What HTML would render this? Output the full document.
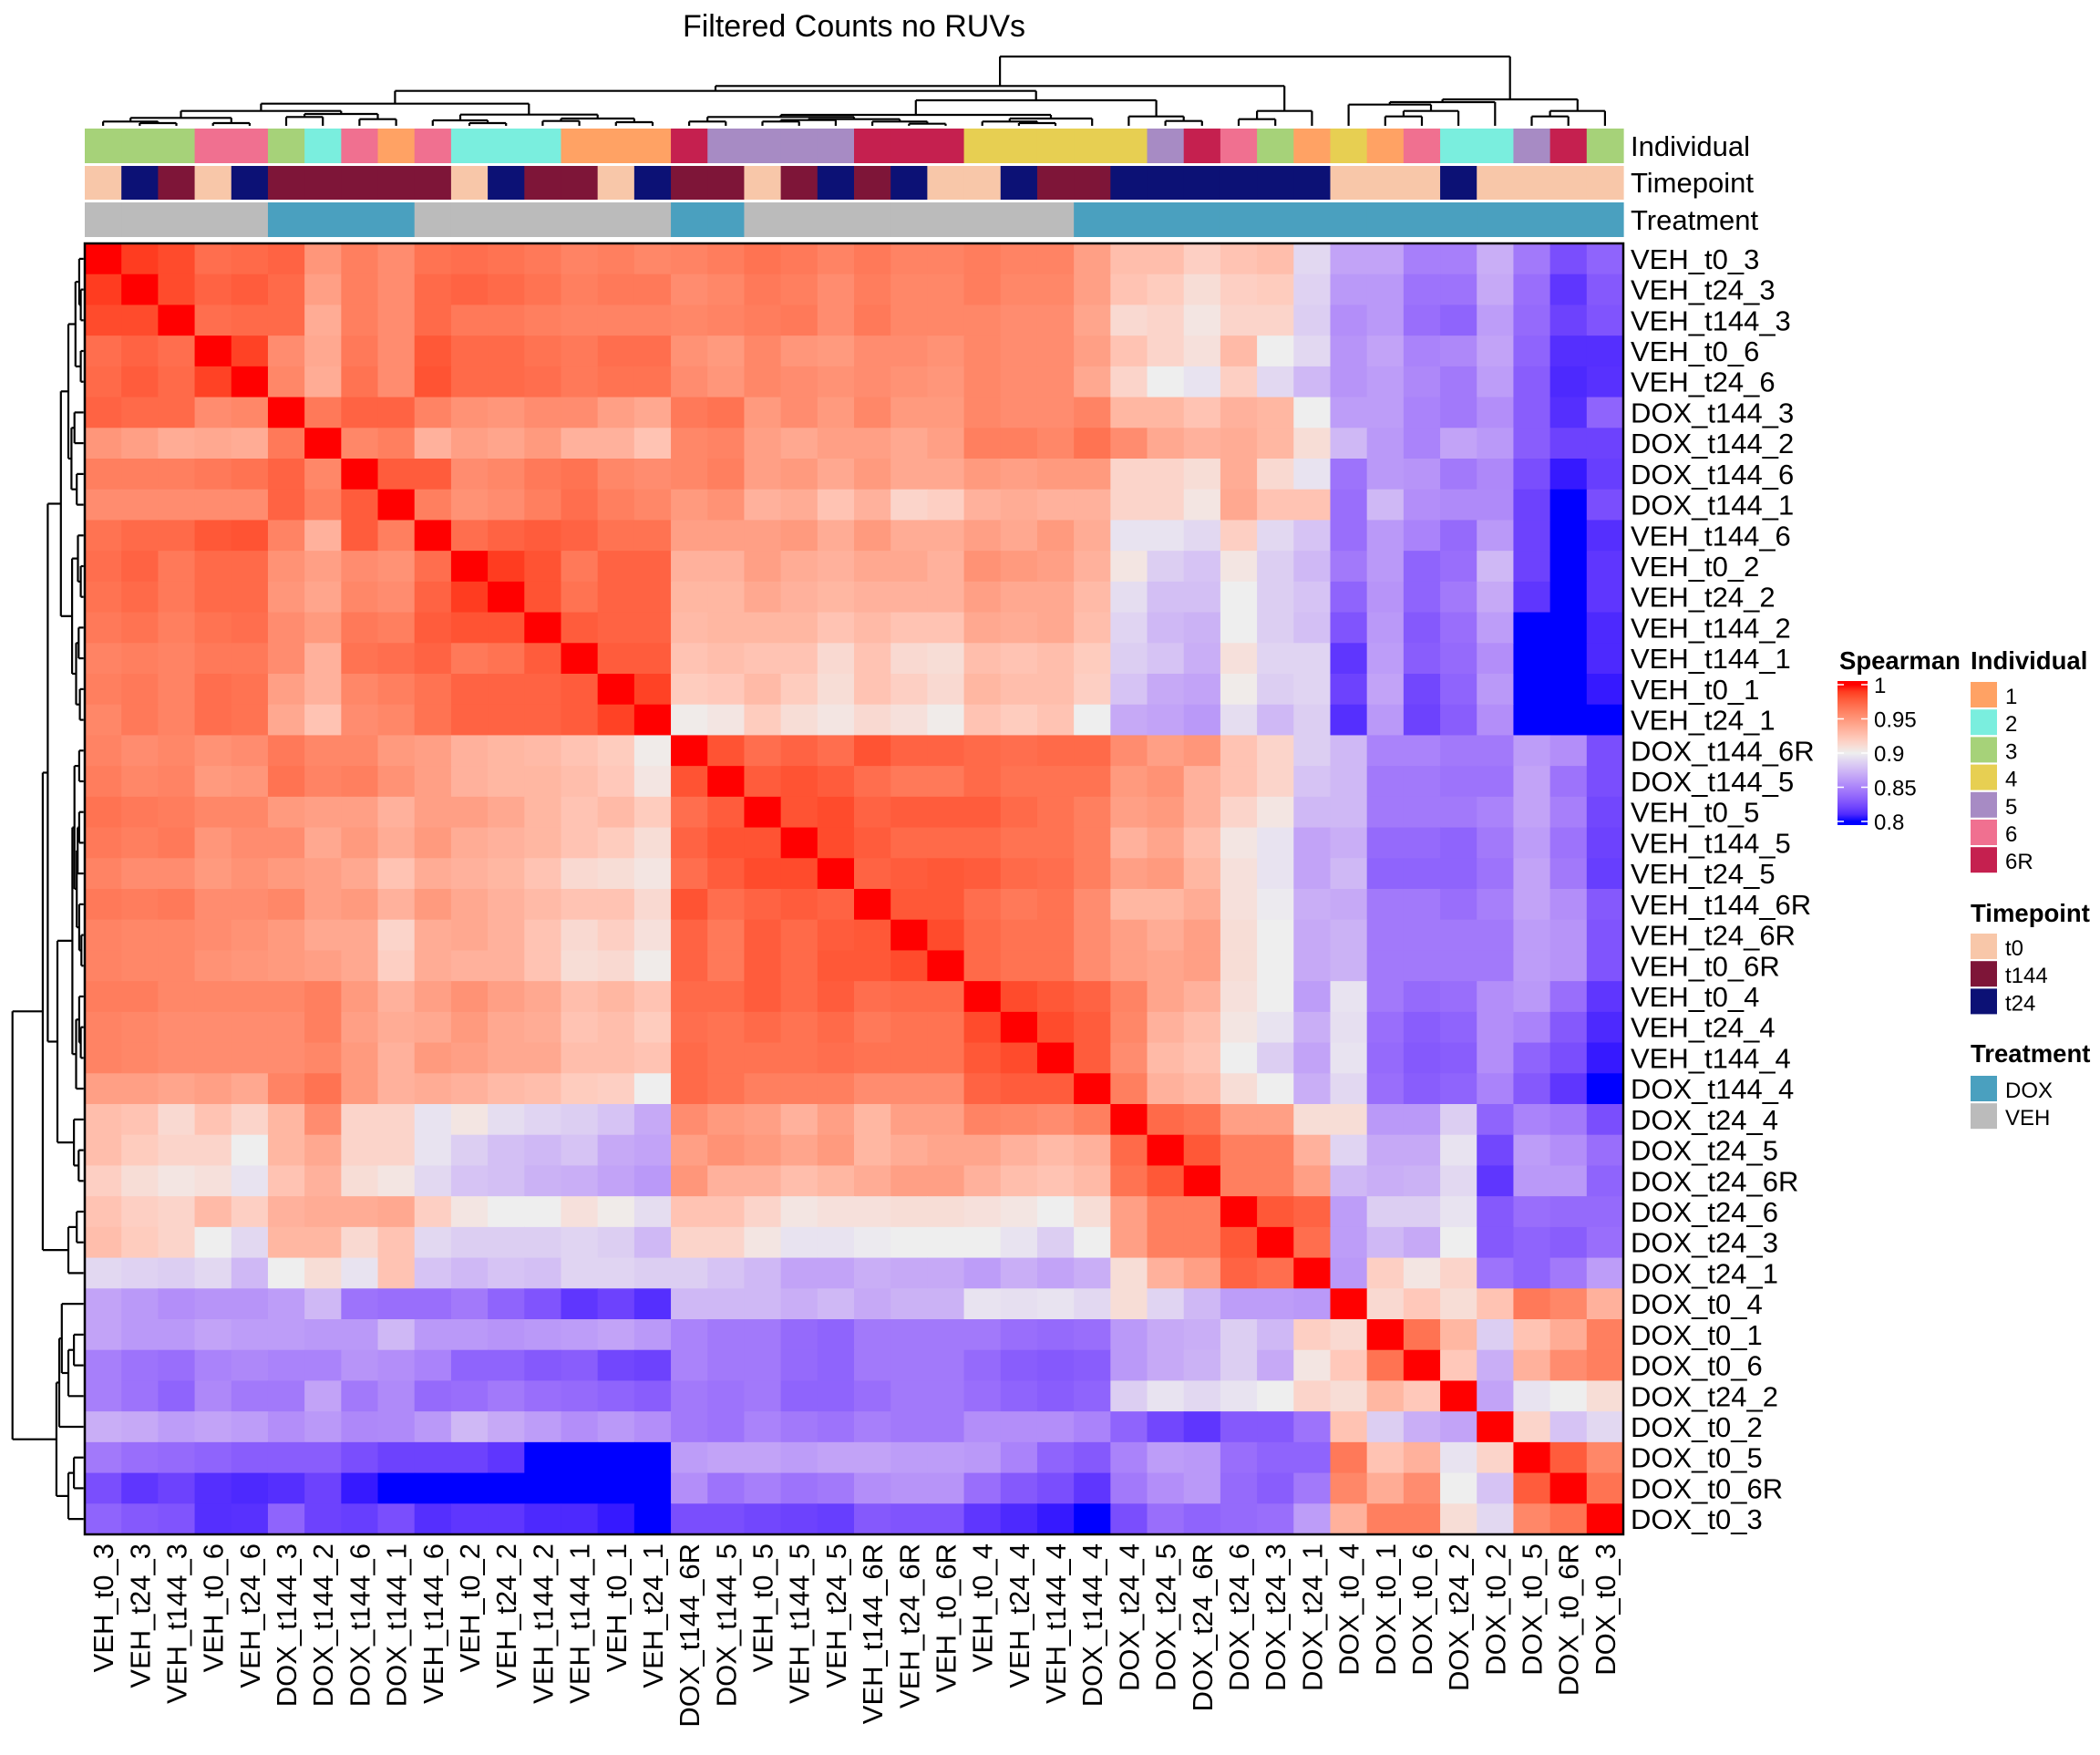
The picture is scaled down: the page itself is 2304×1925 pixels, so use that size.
<!DOCTYPE html>
<html><head><meta charset="utf-8"><title>Filtered Counts no RUVs</title>
<style>
html,body{margin:0;padding:0;background:#fff;}
svg text{font-family:"Liberation Sans",Arial,sans-serif;fill:#000;}
</style></head>
<body>
<svg id="chart" width="2304" height="1920" viewBox="0 0 2304 1920" xmlns="http://www.w3.org/2000/svg">
  <rect x="0" y="0" width="2304" height="1920" fill="#fff"/>
  <text x="937" y="40" font-size="34" text-anchor="middle">Filtered Counts no RUVs</text>
  <g id="topDendro"></g>
  <g id="leftDendro"></g>
  <g id="annots"></g>
  <text x="1789" y="171" font-size="31">Individual</text>
  <text x="1789" y="211" font-size="31">Timepoint</text>
  <text x="1789" y="252" font-size="31">Treatment</text>
  <g id="cells"></g>
  <rect x="93" y="267" width="1688" height="1416" fill="none" stroke="#000" stroke-width="2.5"/>
  <g id="rowLabels"></g>
  <g id="colLabels"></g>

  <g>
    <text x="2018" y="734" font-size="27.5" font-weight="bold">Spearman</text>
    <defs><linearGradient id="grad" x1="0" y1="1" x2="0" y2="0"></linearGradient></defs>
    <rect x="2016" y="747" width="33" height="158" fill="url(#grad)"/>
    <g id="legTicks"></g>
  </g>
  <g id="catLegends"></g>
</svg>
<script>
const NS="http://www.w3.org/2000/svg";
const labels=["VEH_t0_3","VEH_t24_3","VEH_t144_3","VEH_t0_6","VEH_t24_6","DOX_t144_3","DOX_t144_2","DOX_t144_6","DOX_t144_1","VEH_t144_6","VEH_t0_2","VEH_t24_2","VEH_t144_2","VEH_t144_1","VEH_t0_1","VEH_t24_1","DOX_t144_6R","DOX_t144_5","VEH_t0_5","VEH_t144_5","VEH_t24_5","VEH_t144_6R","VEH_t24_6R","VEH_t0_6R","VEH_t0_4","VEH_t24_4","VEH_t144_4","DOX_t144_4","DOX_t24_4","DOX_t24_5","DOX_t24_6R","DOX_t24_6","DOX_t24_3","DOX_t24_1","DOX_t0_4","DOX_t0_1","DOX_t0_6","DOX_t24_2","DOX_t0_2","DOX_t0_5","DOX_t0_6R","DOX_t0_3"];
// upper triangle: row i holds values for columns i..41
const upperRows=[
[1.0,0.99,0.985,0.97,0.972,0.975,0.95,0.962,0.955,0.968,0.97,0.968,0.965,0.96,0.962,0.958,0.96,0.963,0.968,0.965,0.96,0.965,0.96,0.96,0.963,0.96,0.96,0.945,0.928,0.928,0.918,0.925,0.928,0.89,0.865,0.865,0.848,0.848,0.87,0.845,0.825,0.835],
[1.0,0.985,0.975,0.978,0.972,0.945,0.962,0.955,0.972,0.975,0.972,0.968,0.962,0.965,0.965,0.955,0.958,0.965,0.962,0.955,0.963,0.958,0.958,0.963,0.958,0.958,0.945,0.925,0.92,0.91,0.918,0.92,0.887,0.86,0.86,0.842,0.842,0.868,0.84,0.815,0.83],
[1.0,0.97,0.972,0.972,0.938,0.962,0.955,0.972,0.965,0.965,0.962,0.96,0.96,0.96,0.958,0.96,0.963,0.965,0.955,0.965,0.958,0.958,0.958,0.955,0.955,0.942,0.912,0.915,0.905,0.915,0.915,0.885,0.855,0.86,0.84,0.835,0.862,0.838,0.82,0.828],
[1.0,0.988,0.955,0.94,0.965,0.955,0.98,0.972,0.972,0.968,0.965,0.97,0.97,0.952,0.948,0.958,0.95,0.948,0.955,0.955,0.952,0.958,0.955,0.955,0.945,0.925,0.915,0.908,0.93,0.9,0.89,0.858,0.865,0.85,0.852,0.865,0.835,0.812,0.812],
[1.0,0.958,0.938,0.968,0.955,0.982,0.972,0.972,0.97,0.965,0.968,0.968,0.955,0.95,0.958,0.955,0.952,0.955,0.952,0.95,0.958,0.955,0.955,0.94,0.915,0.9,0.895,0.918,0.89,0.875,0.858,0.862,0.852,0.845,0.862,0.832,0.81,0.813],
[1.0,0.965,0.975,0.975,0.96,0.952,0.95,0.955,0.955,0.945,0.94,0.965,0.968,0.948,0.955,0.948,0.958,0.948,0.948,0.958,0.955,0.955,0.96,0.932,0.932,0.925,0.935,0.932,0.9,0.862,0.862,0.85,0.845,0.855,0.832,0.812,0.835],
[1.0,0.958,0.962,0.935,0.945,0.942,0.948,0.935,0.935,0.925,0.958,0.96,0.945,0.94,0.945,0.945,0.94,0.945,0.962,0.962,0.958,0.968,0.955,0.94,0.935,0.938,0.932,0.91,0.875,0.86,0.85,0.865,0.86,0.832,0.82,0.82],
[1.0,0.978,0.978,0.955,0.958,0.965,0.968,0.958,0.955,0.958,0.962,0.945,0.948,0.94,0.948,0.94,0.94,0.948,0.945,0.948,0.948,0.915,0.915,0.91,0.938,0.912,0.895,0.842,0.86,0.858,0.845,0.852,0.825,0.805,0.818],
[1.0,0.962,0.952,0.955,0.962,0.97,0.962,0.958,0.948,0.952,0.935,0.938,0.925,0.935,0.915,0.918,0.935,0.938,0.935,0.935,0.915,0.915,0.905,0.94,0.925,0.925,0.84,0.875,0.855,0.853,0.853,0.82,0.78,0.825],
[1.0,0.97,0.975,0.978,0.975,0.968,0.968,0.945,0.945,0.945,0.948,0.938,0.948,0.938,0.938,0.945,0.94,0.948,0.938,0.895,0.895,0.89,0.918,0.89,0.88,0.84,0.86,0.85,0.838,0.86,0.82,0.78,0.812],
[1.0,0.99,0.982,0.965,0.975,0.975,0.935,0.935,0.945,0.938,0.935,0.94,0.94,0.935,0.952,0.948,0.945,0.935,0.905,0.885,0.88,0.905,0.885,0.875,0.845,0.86,0.835,0.84,0.875,0.82,0.78,0.815],
[1.0,0.982,0.968,0.975,0.975,0.932,0.932,0.94,0.935,0.932,0.935,0.935,0.935,0.945,0.94,0.94,0.93,0.892,0.878,0.878,0.9,0.885,0.88,0.835,0.858,0.835,0.845,0.868,0.815,0.78,0.815],
[1.0,0.978,0.975,0.975,0.93,0.932,0.932,0.932,0.925,0.93,0.925,0.925,0.94,0.938,0.94,0.928,0.888,0.875,0.872,0.9,0.885,0.878,0.828,0.86,0.83,0.84,0.862,0.8,0.78,0.81],
[1.0,0.978,0.978,0.925,0.928,0.925,0.925,0.912,0.925,0.912,0.91,0.928,0.925,0.928,0.92,0.885,0.88,0.87,0.908,0.888,0.888,0.815,0.862,0.832,0.838,0.855,0.78,0.78,0.81],
[1.0,0.988,0.92,0.922,0.93,0.92,0.91,0.925,0.918,0.912,0.932,0.928,0.928,0.918,0.88,0.868,0.865,0.902,0.885,0.888,0.82,0.865,0.822,0.835,0.86,0.78,0.78,0.805],
[1.0,0.902,0.905,0.92,0.91,0.905,0.912,0.908,0.902,0.925,0.92,0.925,0.9,0.868,0.865,0.86,0.892,0.875,0.885,0.812,0.86,0.82,0.832,0.855,0.78,0.78,0.78],
[1.0,0.982,0.97,0.975,0.97,0.982,0.975,0.975,0.972,0.97,0.972,0.972,0.955,0.945,0.95,0.925,0.915,0.885,0.875,0.85,0.85,0.845,0.845,0.862,0.855,0.825],
[1.0,0.978,0.982,0.978,0.97,0.965,0.965,0.972,0.968,0.968,0.968,0.948,0.952,0.935,0.925,0.915,0.88,0.875,0.845,0.845,0.842,0.842,0.865,0.842,0.825],
[1.0,0.982,0.985,0.975,0.978,0.978,0.978,0.972,0.968,0.962,0.945,0.948,0.935,0.915,0.905,0.875,0.875,0.845,0.845,0.845,0.85,0.865,0.848,0.822],
[1.0,0.985,0.978,0.972,0.972,0.972,0.968,0.968,0.962,0.935,0.942,0.928,0.905,0.895,0.865,0.87,0.838,0.838,0.835,0.845,0.862,0.842,0.82],
[1.0,0.975,0.978,0.98,0.978,0.972,0.97,0.962,0.945,0.948,0.932,0.908,0.895,0.865,0.875,0.835,0.835,0.835,0.842,0.865,0.845,0.818],
[1.0,0.98,0.98,0.97,0.965,0.968,0.955,0.932,0.932,0.938,0.908,0.898,0.87,0.868,0.845,0.845,0.84,0.848,0.865,0.855,0.83],
[1.0,0.985,0.972,0.968,0.968,0.955,0.945,0.938,0.945,0.91,0.9,0.868,0.872,0.845,0.845,0.845,0.845,0.862,0.858,0.828],
[1.0,0.972,0.968,0.968,0.955,0.945,0.942,0.945,0.91,0.9,0.868,0.872,0.845,0.845,0.845,0.845,0.862,0.858,0.828],
[1.0,0.985,0.98,0.975,0.96,0.942,0.935,0.908,0.9,0.862,0.895,0.845,0.838,0.84,0.855,0.86,0.84,0.815],
[1.0,0.985,0.978,0.958,0.935,0.928,0.905,0.895,0.87,0.893,0.84,0.832,0.835,0.855,0.85,0.83,0.81],
[1.0,0.978,0.955,0.93,0.925,0.9,0.885,0.865,0.895,0.838,0.83,0.832,0.855,0.835,0.825,0.805],
[1.0,0.962,0.935,0.93,0.91,0.9,0.87,0.89,0.84,0.832,0.835,0.85,0.83,0.815,0.78],
[1.0,0.972,0.968,0.945,0.945,0.91,0.91,0.86,0.86,0.885,0.835,0.85,0.845,0.825],
[1.0,0.98,0.962,0.962,0.935,0.888,0.868,0.868,0.895,0.822,0.862,0.855,0.84],
[1.0,0.962,0.962,0.945,0.875,0.87,0.872,0.89,0.815,0.86,0.86,0.835],
[1.0,0.98,0.975,0.862,0.885,0.885,0.895,0.83,0.84,0.838,0.838],
[1.0,0.97,0.862,0.875,0.868,0.9,0.83,0.835,0.832,0.84],
[1.0,0.86,0.918,0.905,0.915,0.842,0.835,0.845,0.862],
[1.0,0.912,0.922,0.91,0.925,0.965,0.958,0.935],
[1.0,0.968,0.932,0.885,0.925,0.938,0.962],
[1.0,0.922,0.87,0.935,0.955,0.962],
[1.0,0.865,0.895,0.9,0.91],
[1.0,0.915,0.88,0.89],
[1.0,0.978,0.958],
[1.0,0.968],
[1.0]
];
// dendrogram merges (hclust style): negative = leaf (1-based), positive = merge index; third = height
const merges=[
[-2,-3,3],[-1,1,4.7],[-4,-5,3],[2,3,8.7],[-6,-7,9.7],[-8,-9,7.3],[5,6,13],[4,7,16.3],
[-11,-12,3],[-10,9,6],[-13,-14,5.3],[-15,-16,4],[11,12,8],[10,13,12.3],[8,14,24.3],
[-17,-18,4.7],[-19,-20,4.7],[17,-21,6.3],[-23,-24,2.3],[-22,19,4.7],[18,20,7.3],[16,21,9.7],
[-26,-27,3],[-25,23,4.7],[24,-28,8],[22,25,12],[-30,-31,5.3],[-29,27,10.3],[26,28,28],[15,29,38.3],
[-32,-33,7.3],[31,-34,16.3],[30,32,43.7],[-36,-37,10.3],[34,-38,16.3],[-35,35,23.3],[36,-39,26],
[-40,-41,10.3],[38,-42,16.3],[37,39,29],[33,40,76]
];
const scaleTicks=[1,0.95,0.9,0.85,0.8];
const indivLevels=["1","2","3","4","5","6","6R"];
const indivColors=["#FFA264","#7AEEDE","#A6D279","#E7CF52","#A78BC4","#F07090","#C5204F"];
const timeLevels=["t0","t144","t24"];
const timeColors=["#F8C7A9","#7E1538","#0C1175"];
const treatLevels=["DOX","VEH"];
const treatColors=["#4AA0BF","#BBBBBB"];

const N=labels.length;
const X0=93,Y0=267,W=1688,H=1416,cw=W/N,ch=H/N;
const xC=i=>X0+cw*(i+0.5), yC=i=>Y0+ch*(i+0.5);

const M=[];for(let i=0;i<N;i++)M.push(new Array(N).fill(0.9));
for(let i=0;i<N;i++){const r=upperRows[i]||[];for(let k=0;k<N-i;k++){const v=(r[k]!==undefined)?r[k]:0.9;M[i][i+k]=v;M[i+k][i]=v;}}

function s2l(c){c/=255;return c<=0.04045?c/12.92:Math.pow((c+0.055)/1.055,2.4);}
function l2s(c){c=c<=0.0031308?12.92*c:1.055*Math.pow(c,1/2.4)-0.055;return Math.max(0,Math.min(255,Math.round(c*255)));}
function toLab(r,g,b){r=s2l(r);g=s2l(g);b=s2l(b);let x=(r*0.4124+g*0.3576+b*0.1805)/0.95047,y=(r*0.2126+g*0.7152+b*0.0722),z=(r*0.0193+g*0.1192+b*0.9505)/1.08883;const f=t=>t>0.008856?Math.cbrt(t):7.787*t+16/116;x=f(x);y=f(y);z=f(z);return[116*y-16,500*(x-y),200*(y-z)];}
function fromLab(L,a,b){let y=(L+16)/116,x=a/500+y,z=y-b/200;const fi=t=>t*t*t>0.008856?t*t*t:(t-16/116)/7.787;x=fi(x)*0.95047;y=fi(y);z=fi(z)*1.08883;const r=x*3.2406+y*-1.5372+z*-0.4986,g=x*-0.9689+y*1.8758+z*0.0415,bb=x*0.0557+y*-0.2040+z*1.0570;return`rgb(${l2s(r)},${l2s(g)},${l2s(bb)})`;}
const LB=toLab(0,0,255),LW=toLab(238,238,238),LR=toLab(255,0,0);
function col(v){v=Math.max(0.8,Math.min(1,v));let A,B,t;if(v<0.9){A=LB;B=LW;t=(v-0.8)/0.1;}else{A=LW;B=LR;t=(v-0.9)/0.1;}return fromLab(A[0]+(B[0]-A[0])*t,A[1]+(B[1]-A[1])*t,A[2]+(B[2]-A[2])*t);}

const cells=document.getElementById('cells');
for(let i=0;i<N;i++)for(let j=0;j<N;j++){
  const r=document.createElementNS(NS,'rect');
  r.setAttribute('x',(X0+cw*j).toFixed(2));r.setAttribute('y',(Y0+ch*i).toFixed(2));
  r.setAttribute('width',(cw+0.6).toFixed(2));r.setAttribute('height',(ch+0.6).toFixed(2));
  r.setAttribute('fill',col(M[i][j]));
  
  
  cells.appendChild(r);
}
const rl=document.getElementById('rowLabels'),cl=document.getElementById('colLabels');
labels.forEach((s,i)=>{
  const t=document.createElementNS(NS,'text');
  t.setAttribute('x',1789);t.setAttribute('y',(yC(i)+11).toFixed(1));t.setAttribute('font-size','31');
  t.textContent=s;
  
  
  rl.appendChild(t);
  const c=document.createElementNS(NS,'text');
  const cx=xC(i)+11,cy=1693;
  c.setAttribute('transform',`translate(${cx.toFixed(1)},${cy}) rotate(-90)`);
  c.setAttribute('text-anchor','end');c.setAttribute('font-size','31');
  c.textContent=s;
  
  
  cl.appendChild(c);
});
const an=document.getElementById('annots');
function addAnn(y,h,color,name){
  for(let j=0;j<N;j++){const r=document.createElementNS(NS,'rect');
    r.setAttribute('x',(X0+cw*j).toFixed(2));r.setAttribute('y',y);r.setAttribute('width',(cw+0.6).toFixed(2));r.setAttribute('height',h);
    r.setAttribute('fill',color(j));
    
    
    an.appendChild(r);}
}
const parts=labels.map(s=>s.split('_'));
addAnn(141,38,j=>indivColors[indivLevels.indexOf(parts[j][2])],'individual-annotation-cell');
addAnn(182,37,j=>timeColors[timeLevels.indexOf(parts[j][1])],'timepoint-annotation-cell');
addAnn(222,38,j=>treatColors[treatLevels.indexOf(parts[j][0])],'treatment-annotation-cell');

function drawDendro(g,horizontal){
  const pos=[],hgt=[];
  const P=(c)=>c<0?[xC(-c-1),0]:[pos[c-1],hgt[c-1]];
  const line=(a,b,c,d)=>{const l=document.createElementNS(NS,'line');
    l.setAttribute('x1',a.toFixed(1));l.setAttribute('y1',b.toFixed(1));l.setAttribute('x2',c.toFixed(1));l.setAttribute('y2',d.toFixed(1));
    l.setAttribute('stroke','#000');l.setAttribute('stroke-width','2.2');
    
    
    g.appendChild(l);};
  merges.forEach((m,k)=>{
    const [pa,ha]=P(m[0]),[pb,hb]=P(m[1]),h=m[2];
    if(!horizontal){const f=v=>138-v;
      line(pa,f(ha),pa,f(h));line(pb,f(hb),pb,f(h));line(pa,f(h),pb,f(h));}
    else{const f=v=>91.7-v*1.026,q=p=>Y0+(p-X0)*ch/cw;
      line(f(ha),q(pa),f(h),q(pa));line(f(hb),q(pb),f(h),q(pb));line(f(h),q(pa),f(h),q(pb));}
    pos.push((pa+pb)/2);hgt.push(h);
  });
}
drawDendro(document.getElementById('topDendro'),false);
drawDendro(document.getElementById('leftDendro'),true);

const grad=document.getElementById('grad');
for(let k=0;k<=20;k++){const v=0.8+0.01*k;const s=document.createElementNS(NS,'stop');
  s.setAttribute('offset',((4+ (150*k/20))/158).toFixed(3));s.setAttribute('stop-color',col(v));grad.appendChild(s);}
const lt=document.getElementById('legTicks');
scaleTicks.forEach(v=>{
  const y=901-(v-0.8)/0.2*150;
  [[2016,2023],[2042,2049]].forEach(p=>{const l=document.createElementNS(NS,'line');
    l.setAttribute('x1',p[0]);l.setAttribute('x2',p[1]);l.setAttribute('y1',y);l.setAttribute('y2',y);l.setAttribute('stroke','#fff');l.setAttribute('stroke-width','1.5');
    
    
    lt.appendChild(l);});
  const t=document.createElementNS(NS,'text');t.setAttribute('x',2056);t.setAttribute('y',(y+9).toFixed(1));t.setAttribute('font-size','24');
  t.textContent=String(v);
  
  
  lt.appendChild(t);
});
const cg=document.getElementById('catLegends');
function catLegend(title,titleY,startY,levels,colors,key){
  const t=document.createElementNS(NS,'text');t.setAttribute('x',2162);t.setAttribute('y',titleY);t.setAttribute('font-size','27.5');t.setAttribute('font-weight','bold');
  t.textContent=title;
  
  
  cg.appendChild(t);
  levels.forEach((lv,i)=>{const y=startY+i*30.2;
    const r=document.createElementNS(NS,'rect');r.setAttribute('x',2162);r.setAttribute('y',y.toFixed(1));r.setAttribute('width',29);r.setAttribute('height',28);r.setAttribute('fill',colors[i]);
    
    
    cg.appendChild(r);
    const s=document.createElementNS(NS,'text');s.setAttribute('x',2200);s.setAttribute('y',(y+24).toFixed(1));s.setAttribute('font-size','24');
    s.textContent=lv;
    
    
    cg.appendChild(s);});
}
catLegend('Individual',734,748,indivLevels,indivColors,'individual');
catLegend('Timepoint',1011,1024,timeLevels,timeColors,'timepoint');
catLegend('Treatment',1165,1180,treatLevels,treatColors,'treatment');
</script>
</body></html>
